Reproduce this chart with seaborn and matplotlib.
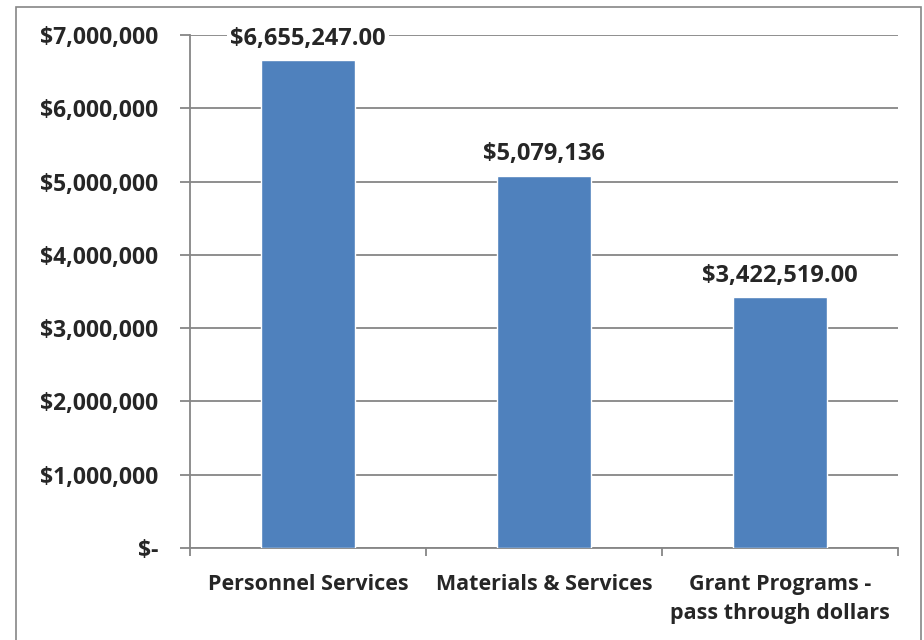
import numpy as np
import pandas as pd
import matplotlib.pyplot as plt
import seaborn as sns
from matplotlib.patches import Rectangle

sns.set_style("white")
plt.rcParams["font.family"] = ["Open Sans", "DejaVu Sans"]
plt.rcParams["font.weight"] = "bold"

categories = ["Personnel Services", "Materials & Services", "Grant Programs -\npass through dollars"]
values = [6655247.00, 5079136, 3422519.00]
value_labels = ["$6,655,247.00", "$5,079,136", "$3,422,519.00"]
ytick_vals = [0, 1000000, 2000000, 3000000, 4000000, 5000000, 6000000, 7000000]
ytick_labels = ["$-", "$1,000,000", "$2,000,000", "$3,000,000", "$4,000,000",
                "$5,000,000", "$6,000,000", "$7,000,000"]

data = pd.DataFrame({"Category": categories, "Value": values})

fig = plt.figure(figsize=(9.24, 6.4), dpi=100)
ax = fig.add_axes([190/924, 1 - 548/640, (898 - 190)/924, (548 - 35)/640])

sns.barplot(data=data, x="Category", y="Value", color="#4F81BD", width=0.4,
            saturation=1, ax=ax, zorder=3)

grid_c = "#868686"
ax.set_ylim(0, 7000000)
ax.set_xlim(-0.5, 2.5)
ax.set_yticks(ytick_vals)
ax.set_yticklabels(ytick_labels, fontsize=16.5, fontweight="bold")
ax.yaxis.grid(True, color=grid_c, linewidth=1.3, zorder=0)
ax.set_axisbelow(True)
ax.tick_params(axis="y", length=7, width=1.3, color=grid_c, pad=16, left=True)
ax.set_xticks([0, 1, 2])
ax.set_xticklabels(categories, fontsize=15.5, fontweight="bold", linespacing=1.45)
ax.set_xticks([-0.5, 0.5, 1.5, 2.5], minor=True)
ax.tick_params(axis="x", which="minor", length=6, width=1.3, color=grid_c, bottom=True)
ax.tick_params(axis="x", which="major", length=0, pad=19)
ax.set_xlabel("")
ax.set_ylabel("")
for side in ["top", "right"]:
    ax.spines[side].set_visible(False)
for side in ["left", "bottom"]:
    ax.spines[side].set_color(grid_c)
    ax.spines[side].set_linewidth(1.3)

for i, (v, lab) in enumerate(zip(values, value_labels)):
    ax.text(i, v + 130000, lab, ha="center", va="bottom", fontsize=17,
            fontweight="bold", zorder=4,
            bbox=dict(facecolor="white", edgecolor="none", pad=2))

fig.patches.append(Rectangle((16/924, -0.1), (921 - 16)/924, 1.1 - 7/640,
                             transform=fig.transFigure, fill=False,
                             edgecolor="#868686", linewidth=1.2))

plt.savefig("out.png", dpi=100)
